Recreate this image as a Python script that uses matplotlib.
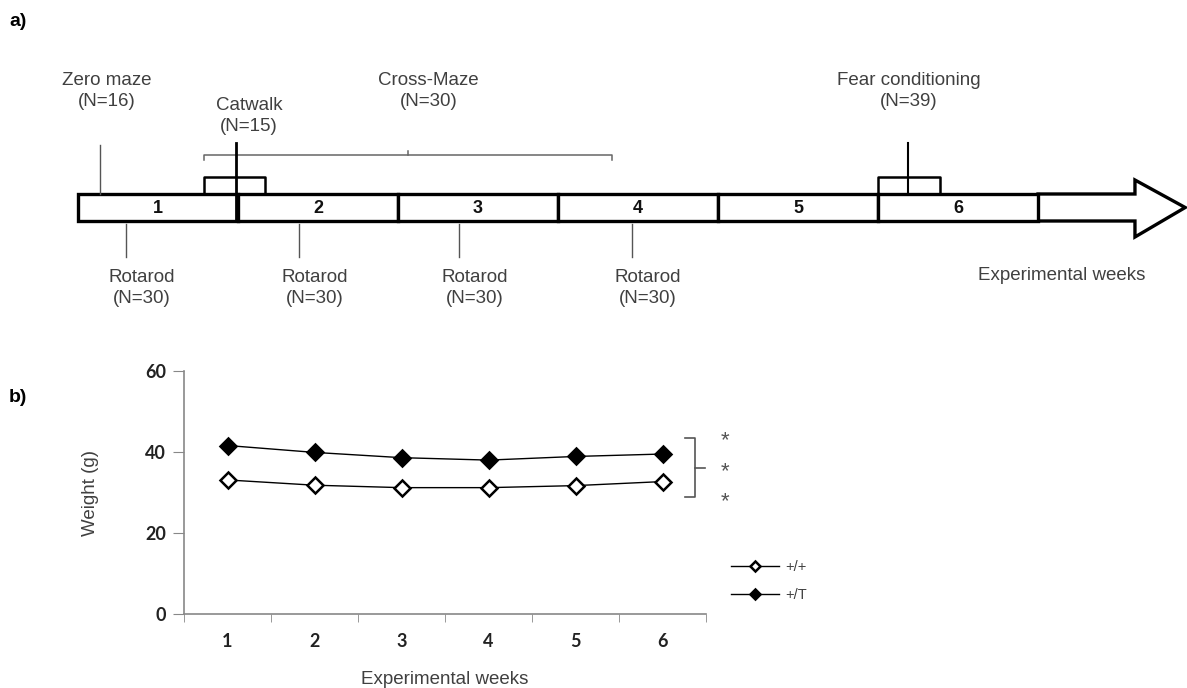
import matplotlib
matplotlib.use("Agg")
import matplotlib.pyplot as plt
from matplotlib.patches import Rectangle, Polygon

# ---- data ----
weeks = [1, 2, 3, 4, 5, 6]
weight_wt = [33.1, 31.8, 31.2, 31.2, 31.7, 32.7]   # +/+
weight_tg = [41.6, 39.9, 38.6, 38.0, 38.9, 39.5]   # +/T

# timeline events (position in weeks from start of week 1)
rotarod_pos = [0.30, 1.38, 2.38, 3.46]
rotarod_labels = ["Rotarod\n(N=30)"] * 4
zero_maze_pos = 0.14
catwalk_pos = 0.99
catwalk_span = (0.79, 1.17)
cross_maze_span = (0.79, 3.34)
fear_pos = 5.19
fear_span = (5.0, 5.39)

TXT = "#404040"
SANS = "Liberation Sans"
FS = 13.5

fig = plt.figure(figsize=(11.87, 6.88), dpi=100)

# ---- panel a: timeline, x in weeks, y in pixels ----
x0, wpx = 78, 160
axa = fig.add_axes([0, 0, 1, 1])
axa.set_xlim(-x0 / wpx, (1187 - x0) / wpx)
axa.set_ylim(688, 0)
axa.axis("off")

bar_top, bar_bot = 194, 221
for i in range(6):
    axa.add_patch(Rectangle((i, bar_top), 1, bar_bot - bar_top, fc="white",
                            ec="black", lw=2.4, zorder=2))
    axa.text(i + 0.5, (bar_top + bar_bot) / 2 + 1, str(i + 1), ha="center", va="center",
             fontsize=13, fontweight="bold", family=SANS, color="#111111", zorder=3)

# arrow after week 6
shaft_end, tip = 6.606, 6.92
arrow = [(6, bar_top), (shaft_end, bar_top), (shaft_end, 180), (tip, 207.5),
         (shaft_end, 237), (shaft_end, bar_bot), (6, bar_bot)]
axa.add_patch(Polygon(arrow, closed=True, fc="white", ec="black", lw=2.4, zorder=1))

# rotarod markers below the bar
for p, lab in zip(rotarod_pos, rotarod_labels):
    axa.plot([p, p], [224, 257], color="#555555", lw=1)
    axa.text(p + 0.1, 288, lab, ha="center", va="center", fontsize=FS,
             family=SANS, color=TXT, linespacing=1.3)

# zero maze
axa.plot([zero_maze_pos] * 2, [145, bar_top], color="#555555", lw=1)
axa.text(0.18, 91, "Zero maze\n(N=16)", ha="center", va="center", fontsize=FS,
         family=SANS, color=TXT, linespacing=1.3)

# catwalk
axa.plot([catwalk_pos] * 2, [143, bar_bot], color="black", lw=2, zorder=4)
axa.plot([catwalk_span[0], catwalk_span[0], catwalk_span[1], catwalk_span[1]],
         [bar_top, 177, 177, bar_top], color="black", lw=1.8, zorder=1)
axa.text(1.07, 116, "Catwalk\n(N=15)", ha="center", va="center", fontsize=FS,
         family=SANS, color=TXT, linespacing=1.3)

# cross-maze bracket
cm_mid = sum(cross_maze_span) / 2
axa.plot([cross_maze_span[0], cross_maze_span[0], cross_maze_span[1], cross_maze_span[1]],
         [160, 155, 155, 160], color="#666666", lw=1.1)
axa.plot([cm_mid, cm_mid], [155, 151], color="#666666", lw=1.1)
axa.text(2.19, 91, "Cross-Maze\n(N=30)", ha="center", va="center", fontsize=FS,
         family=SANS, color=TXT, linespacing=1.3)

# fear conditioning
axa.plot([fear_pos] * 2, [143, bar_top], color="black", lw=1.5)
axa.plot([fear_span[0], fear_span[0], fear_span[1], fear_span[1]],
         [bar_top, 177, 177, bar_top], color="black", lw=1.8, zorder=1)
axa.text(5.19, 91, "Fear conditioning\n(N=39)", ha="center", va="center", fontsize=FS,
         family=SANS, color=TXT, linespacing=1.3)

axa.text((1062 - x0) / wpx, 276, "Experimental weeks", ha="center", va="center",
         fontsize=FS, family=SANS, color=TXT)

axa.text(-0.43, 21, "a)", ha="left", va="center", fontsize=14, fontweight="bold",
         family=SANS, color="black")
axa.text(-0.43, 398, "b)", ha="left", va="center", fontsize=14, fontweight="bold",
         family=SANS, color="black")

# ---- panel b: body weight ----
W, H = 1187, 688
axb = fig.add_axes([184 / W, 1 - 614 / H, (706 - 184) / W, (614 - 371) / H])
axb.patch.set_alpha(0)
axb.plot(weeks, weight_wt, color="black", lw=1, marker="D", ms=8.5, mfc="white",
         mec="black", mew=1.8, label="+/+", zorder=3)
axb.plot(weeks, weight_tg, color="black", lw=1, marker="D", ms=8.5, mfc="black",
         mec="black", mew=1.8, label="+/T", zorder=3)

axb.set_xlim(0.5, 6.5)
axb.set_ylim(0, 60)
axb.set_yticks([0, 20, 40, 60])
axb.set_xticks(weeks)
axb.set_xticks([0.5, 1.5, 2.5, 3.5, 4.5, 5.5, 6.5], minor=True)
axb.tick_params(axis="x", which="major", length=0, pad=14)
axb.tick_params(axis="x", which="minor", length=6, color="#888888", direction="out")
axb.tick_params(axis="y", length=8, color="#888888", pad=5)
for lab in axb.get_xticklabels() + axb.get_yticklabels():
    lab.set_family("Lato")
    lab.set_fontweight("bold")
    lab.set_fontsize(13)
    lab.set_color("#222222")
for s in ["top", "right"]:
    axb.spines[s].set_visible(False)
for s in ["left", "bottom"]:
    axb.spines[s].set_color("#888888")
    axb.spines[s].set_linewidth(1.2)

axb.set_xlabel("Experimental weeks", fontsize=FS, family=SANS, color=TXT, labelpad=15)
axb.set_ylabel("Weight (g)", fontsize=FS, family=SANS, color=TXT, labelpad=33)

# significance bracket and asterisks (pixel coords via panel a axes)
axa.plot([(685 - x0) / wpx, (695 - x0) / wpx, (695 - x0) / wpx, (685 - x0) / wpx],
         [438, 438, 497, 497], color="#555555", lw=1.2)
axa.plot([(695 - x0) / wpx, (705 - x0) / wpx], [468, 468], color="#555555", lw=1.2)
for yy in [437, 468, 498]:
    axa.text((725 - x0) / wpx, yy + 4, "*", ha="center", va="center", fontsize=16,
             family=SANS, color="#555555")

leg = axb.legend(loc="center left", bbox_to_anchor=(718 / W, 1 - 581 / H),
                 bbox_transform=fig.transFigure, frameon=False,
                 handlelength=3.3, handletextpad=0.4, labelspacing=1.0,
                 markerscale=0.6, prop={"family": SANS, "size": 10.5})
for t in leg.get_texts():
    t.set_color(TXT)

fig.savefig("out.png", dpi=100)
